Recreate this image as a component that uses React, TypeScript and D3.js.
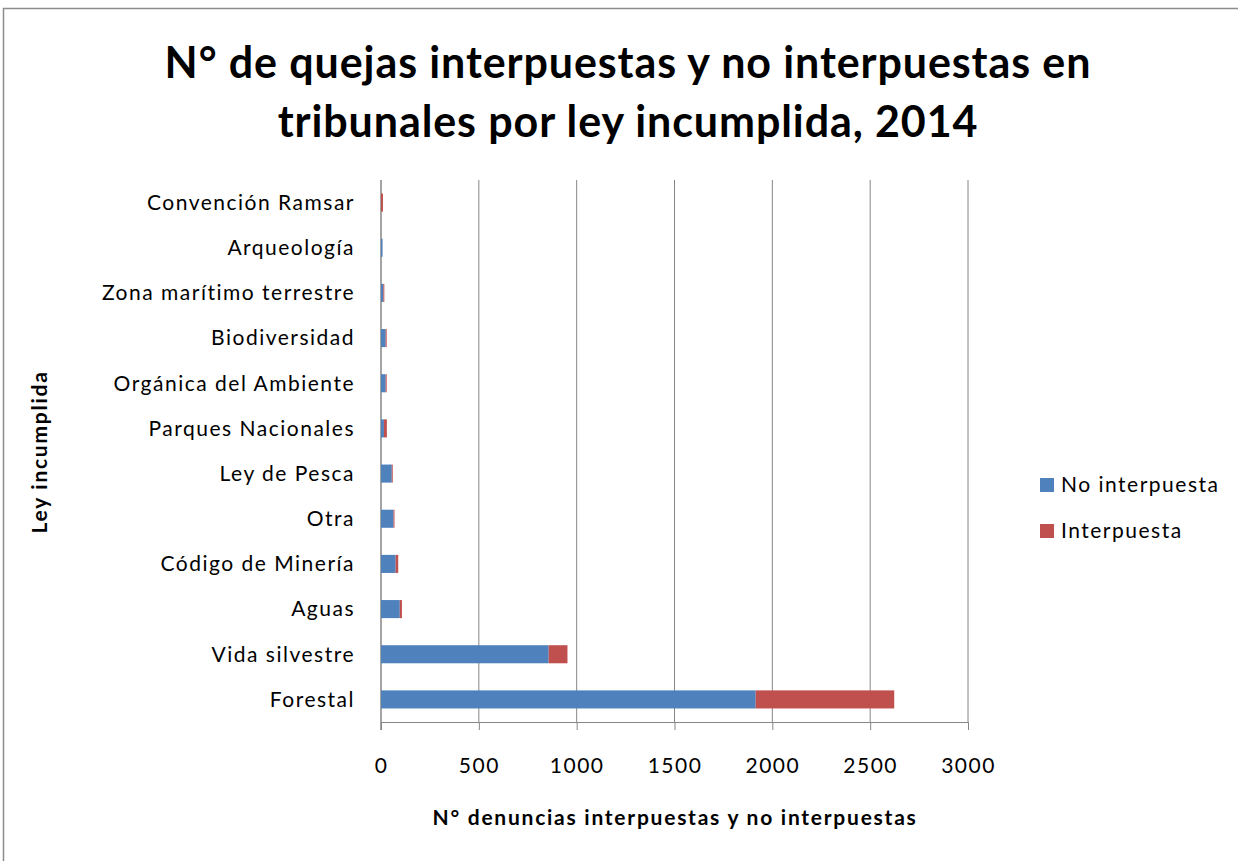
import * as d3 from "d3";
import React, { useRef, useEffect } from "react";

const categories = [
  "Convención Ramsar",
  "Arqueología",
  "Zona marítimo terrestre",
  "Biodiversidad",
  "Orgánica del Ambiente",
  "Parques Nacionales",
  "Ley de Pesca",
  "Otra",
  "Código de Minería",
  "Aguas",
  "Vida silvestre",
  "Forestal",
];
const noInterpuesta = [0, 8, 12, 24, 24, 15, 55, 64, 75, 96, 857, 1915];
const interpuesta = [10, 0, 5, 5, 5, 15, 5, 5, 13, 11, 96, 708];
const seriesNames = ["No interpuesta", "Interpuesta"];
const colors = ["#4F81BD", "#C0504D"];
const xTicks = [0, 500, 1000, 1500, 2000, 2500, 3000];

const FONT = "Lato, 'Open Sans', sans-serif";

function App() {
  const ref = useRef<SVGSVGElement>(null);

  useEffect(() => {
    const svg = d3.select(ref.current);
    svg.selectAll("*").remove();
    draw(svg);
  }, []);

  const draw = (svg: any) => {
    const W = 1238,
      H = 861;
    const left = 381,
      right = 968,
      top = 180,
      bottom = 722;

    svg.attr("width", W).attr("height", H);

    svg
      .append("rect")
      .attr("x", 3.5)
      .attr("y", 8.5)
      .attr("width", W + 10)
      .attr("height", H + 10)
      .attr("fill", "white")
      .attr("stroke", "#8c8c8c")
      .attr("stroke-width", 1.5);

    // title
    const title = svg
      .append("text")
      .attr("text-anchor", "middle")
      .attr("font-family", FONT)
      .attr("font-weight", "bold")
      .attr("font-size", 43)
      .attr("letter-spacing", 0.9)
      .attr("fill", "#000");
    title.append("tspan").attr("x", 628).attr("y", 78).text("N° de quejas interpuestas y no interpuestas en");
    title.append("tspan").attr("x", 628).attr("y", 137).text("tribunales por ley incumplida, 2014");

    const x = d3.scaleLinear().domain([0, 3000]).range([left, right]);
    const y = d3
      .scaleBand()
      .domain(categories)
      .range([top, bottom])
      .paddingInner(0.6)
      .paddingOuter(0.3);

    // gridlines
    svg
      .append("g")
      .selectAll("line")
      .data(xTicks.slice(1))
      .enter()
      .append("line")
      .attr("x1", (d: number) => x(d))
      .attr("x2", (d: number) => x(d))
      .attr("y1", top)
      .attr("y2", bottom)
      .attr("stroke", "#868686")
      .attr("stroke-width", 1);

    // x axis
    const xAxis = svg
      .append("g")
      .attr("transform", `translate(0,${bottom})`)
      .call(
        d3
          .axisBottom(x)
          .tickValues(xTicks)
          .tickFormat((d: any) => String(d))
          .tickSize(8)
          .tickSizeOuter(0)
          .tickPadding(28)
      );
    xAxis.select(".domain").attr("stroke", "#868686");
    xAxis.selectAll(".tick line").attr("stroke", "#868686");
    xAxis
      .selectAll(".tick text")
      .attr("font-family", FONT)
      .attr("font-size", 21)
      .attr("letter-spacing", 1.5)
      .attr("fill", "#000");

    // y axis line
    svg
      .append("line")
      .attr("x1", left)
      .attr("x2", left)
      .attr("y1", top)
      .attr("y2", bottom + 8)
      .attr("stroke", "#868686")
      .attr("stroke-width", 1.5);

    // category labels
    svg
      .append("g")
      .selectAll("text")
      .data(categories)
      .enter()
      .append("text")
      .attr("x", 355)
      .attr("y", (d: string) => (y(d) as number) + y.bandwidth() / 2)
      .attr("dy", "0.35em")
      .attr("text-anchor", "end")
      .attr("font-family", FONT)
      .attr("font-size", 21)
      .attr("letter-spacing", 1.5)
      .attr("fill", "#000")
      .text((d: string) => d);

    // stacked bars
    const rows = categories.map((c, i) => ({ cat: c, a: noInterpuesta[i], b: interpuesta[i] }));
    const stack = d3.stack<any>().keys(["a", "b"])(rows);
    svg
      .append("g")
      .selectAll("g")
      .data(stack)
      .enter()
      .append("g")
      .attr("fill", (d: any, i: number) => colors[i])
      .selectAll("rect")
      .data((d: any) => d)
      .enter()
      .append("rect")
      .attr("x", (d: any) => x(d[0]))
      .attr("width", (d: any) => x(d[1]) - x(d[0]))
      .attr("y", (d: any) => y(d.data.cat) as number)
      .attr("height", y.bandwidth());

    // axis titles
    svg
      .append("text")
      .attr("x", 675)
      .attr("y", 825)
      .attr("text-anchor", "middle")
      .attr("font-family", FONT)
      .attr("font-weight", "bold")
      .attr("font-size", 21)
      .attr("letter-spacing", 1.75)
      .text("N° denuncias interpuestas y no interpuestas");

    svg
      .append("text")
      .attr("transform", "translate(47,452) rotate(-90)")
      .attr("text-anchor", "middle")
      .attr("font-family", FONT)
      .attr("font-weight", "bold")
      .attr("font-size", 21)
      .attr("letter-spacing", 1.75)
      .text("Ley incumplida");

    // legend
    const legend = svg
      .append("g")
      .selectAll("g")
      .data(seriesNames)
      .enter()
      .append("g")
      .attr("transform", (d: string, i: number) => `translate(1040,${485 + i * 46})`);
    legend
      .append("rect")
      .attr("x", 0)
      .attr("y", -7)
      .attr("width", 14)
      .attr("height", 14)
      .attr("fill", (d: string, i: number) => colors[i]);
    legend
      .append("text")
      .attr("x", 21)
      .attr("dy", "0.35em")
      .attr("font-family", FONT)
      .attr("font-size", 21)
      .attr("letter-spacing", 1.5)
      .text((d: string) => d);
  };

  return (
    <div style={{ position: "absolute", left: 0, top: 0 }}>
      <svg ref={ref} style={{ display: "block" }}></svg>
    </div>
  );
}

export default App;
